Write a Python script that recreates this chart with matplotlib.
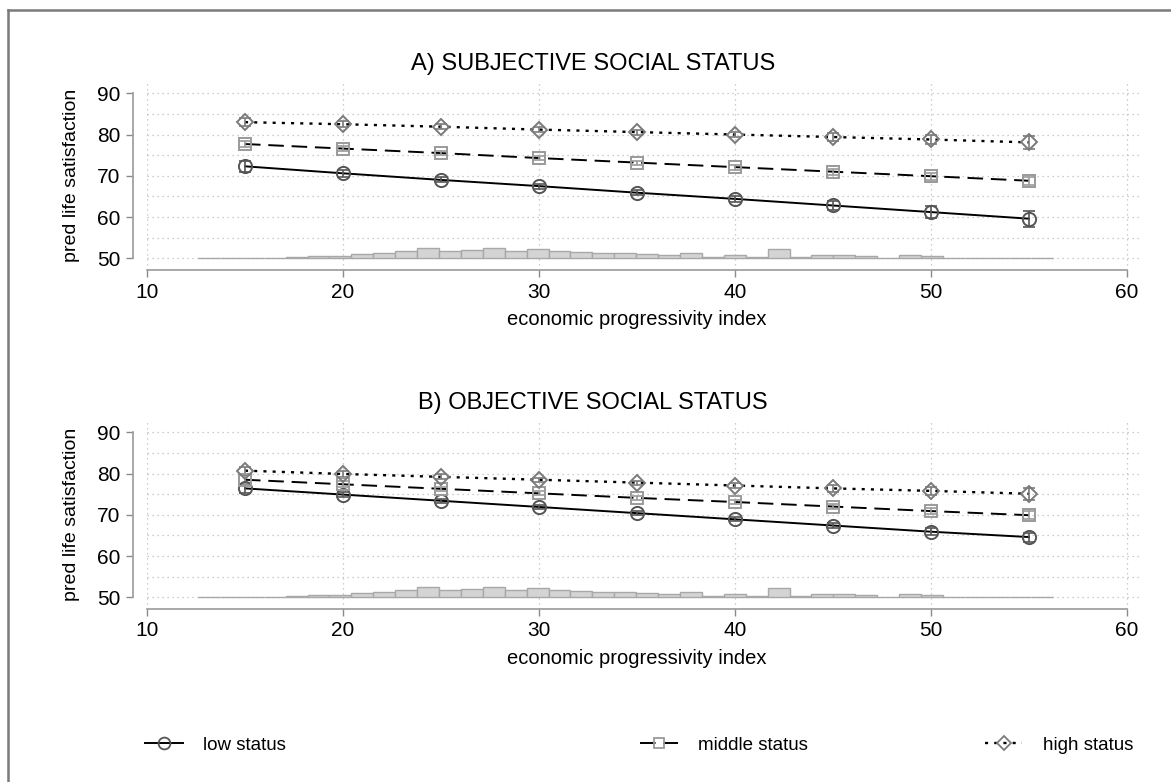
import numpy as np
import matplotlib
matplotlib.use("Agg")
import matplotlib.pyplot as plt
from matplotlib.lines import Line2D

plt.rcParams['font.family'] = ['Liberation Sans', 'DejaVu Sans']

# x positions of the margins
x_vals = [15, 20, 25, 30, 35, 40, 45, 50, 55]

# A) subjective social status
a_low = [72.3, 70.6, 69.0, 67.5, 65.9, 64.4, 62.8, 61.2, 59.6]
a_mid = [77.7, 76.6, 75.5, 74.3, 73.2, 72.1, 71.0, 69.9, 68.8]
a_high = [83.0, 82.5, 81.9, 81.2, 80.6, 80.0, 79.4, 78.8, 78.1]
a_low_err = [1.4, 0.9, 0.6, 0.6, 0.6, 0.7, 1.0, 1.4, 1.9]
a_mid_err = [0.8, 0.6, 0.5, 0.5, 0.5, 0.6, 0.7, 0.8, 1.0]
a_high_err = [0.9, 0.7, 0.6, 0.6, 0.6, 0.7, 0.9, 1.2, 1.6]

# B) objective social status
b_low = [76.4, 74.9, 73.4, 71.9, 70.4, 68.9, 67.4, 65.9, 64.6]
b_mid = [78.5, 77.4, 76.3, 75.2, 74.1, 73.1, 72.0, 70.9, 69.9]
b_high = [80.7, 79.9, 79.2, 78.5, 77.8, 77.1, 76.4, 75.8, 75.1]
b_low_err = [1.0, 0.6, 0.5, 0.5, 0.5, 0.5, 0.6, 0.8, 1.1]
b_mid_err = [1.1, 0.7, 0.5, 0.5, 0.5, 0.5, 0.6, 0.8, 1.0]
b_high_err = [1.0, 0.7, 0.6, 0.5, 0.5, 0.6, 0.8, 1.0, 1.5]

# histogram of the progressivity index (drawn on top of y = 50)
hist_lo, hist_hi = 12.6, 56.2
hist_heights = [0.05, 0.05, 0.05, 0.05, 0.3, 0.6, 0.6, 1.1, 1.3, 1.7,
                2.4, 1.85, 2.1, 2.5, 1.85, 2.25, 1.7, 1.45, 1.2, 1.2,
                0.95, 0.8, 1.3, 0.4, 0.9, 0.4, 2.3, 0.25, 0.8, 0.9,
                0.5, 0.15, 0.7, 0.65, 0.05, 0, 0, 0, 0.05]

W, H = 1171, 782
fig = plt.figure(figsize=(W / 100, H / 100), dpi=100)


def add_px_axes(left, top, right, bottom):
    return fig.add_axes([left / W, 1 - bottom / H, (right - left) / W, (bottom - top) / H])


styles = {
    'low': dict(color='black', ls='-', lw=1.4, marker='o', mec='#555555', ms=9.5),
    'mid': dict(color='black', ls=(0, (8, 4)), lw=1.4, marker='s', mec='#9a9a9a', ms=8.5),
    'high': dict(color='black', ls=(0, (1.3, 2.6)), lw=1.7, marker='D', mec='#7a7a7a', ms=8.5),
}


def draw_panel(ax, low, mid, high, low_err, mid_err, high_err):
    edges = np.linspace(hist_lo, hist_hi, len(hist_heights) + 1)
    ax.bar(edges[:-1], hist_heights, width=np.diff(edges), bottom=50, align='edge',
           color='#d4d4d4', edgecolor='#a8a8a8', linewidth=1.0, zorder=2)

    for key, y, e in [('low', low, low_err), ('mid', mid, mid_err), ('high', high, high_err)]:
        s = styles[key]
        ax.plot(x_vals, y, color=s['color'], ls=s['ls'], lw=s['lw'], zorder=3)
        ax.errorbar(x_vals, y, yerr=e, fmt='none', ecolor=s['mec'], elinewidth=1.2,
                    capsize=4, capthick=1.2, zorder=4)
        ax.plot(x_vals, y, ls='none', marker=s['marker'], ms=s['ms'], mfc='none',
                mec=s['mec'], mew=1.4, zorder=5)

    ax.set_xlim(10, 10 + (1140 - 147) / 19.6)
    ax.set_ylim(47.16, 92.74)
    ax.set_xticks([10, 20, 30, 40, 50, 60])
    ax.set_yticks([50, 60, 70, 80, 90])
    ax.set_yticks([55, 65, 75, 85], minor=True)
    ax.grid(True, which='both', axis='y', color='#bdbdbd', ls=(0, (1, 3)), lw=0.9)
    ax.grid(True, which='major', axis='x', color='#bdbdbd', ls=(0, (1, 3)), lw=0.9)
    ax.tick_params(axis='y', which='minor', length=0)
    ax.tick_params(axis='both', which='major', direction='out', length=5, width=1,
                   color='#8a8a8a', labelsize=15, pad=4)
    ax.set_axisbelow(True)

    for side in ['top', 'right']:
        ax.spines[side].set_visible(False)
    ax.spines['left'].set_position(('outward', 10))
    ax.spines['left'].set_bounds(50, 90)
    ax.spines['bottom'].set_bounds(10, 60)
    for side in ['left', 'bottom']:
        ax.spines[side].set_color('#9a9a9a')
        ax.spines[side].set_linewidth(1.2)


ax_a = add_px_axes(147, 82, 1140, 270)
draw_panel(ax_a, a_low, a_mid, a_high, a_low_err, a_mid_err, a_high_err)
ax_b = add_px_axes(147, 421, 1140, 609)
draw_panel(ax_b, b_low, b_mid, b_high, b_low_err, b_mid_err, b_high_err)

# titles and axis labels
for dy, title in [(0, 'A) SUBJECTIVE SOCIAL STATUS'), (339, 'B) OBJECTIVE SOCIAL STATUS')]:
    fig.text(593 / W, 1 - (64 + dy) / H, title, ha='center', va='center', fontsize=17)
    fig.text(72 / W, 1 - (175 + dy) / H, 'pred life satisfaction', ha='center', va='center',
             rotation=90, fontsize=14)
    fig.text(637 / W, 1 - (320 + dy) / H, 'economic progressivity index', ha='center',
             va='center', fontsize=14.5)

# legend
labels = ['low status', 'middle status', 'high status']
legend_x = [145, 640, 985]
for key, lab, lx in zip(['low', 'mid', 'high'], labels, legend_x):
    s = styles[key]
    h = Line2D([], [], color=s['color'], ls=s['ls'], lw=s['lw'], marker=s['marker'],
               ms=s['ms'] - 1, mfc='none', mec=s['mec'], mew=1.3)
    fig.legend(handles=[h], labels=[lab], loc='center left',
               bbox_to_anchor=(lx / W, 1 - 745 / H), frameon=False, fontsize=13.5,
               handlelength=2.0, handletextpad=1.1, borderpad=0, borderaxespad=0)

# outer frame (left and top edges visible)
fig.add_artist(Line2D([8 / W, 8 / W], [0, 1 - 10 / H], color='#7a7a7a', lw=1.8))
fig.add_artist(Line2D([8 / W, 1], [1 - 10 / H, 1 - 10 / H], color='#7a7a7a', lw=1.8))

fig.savefig('out.png', dpi=100)
